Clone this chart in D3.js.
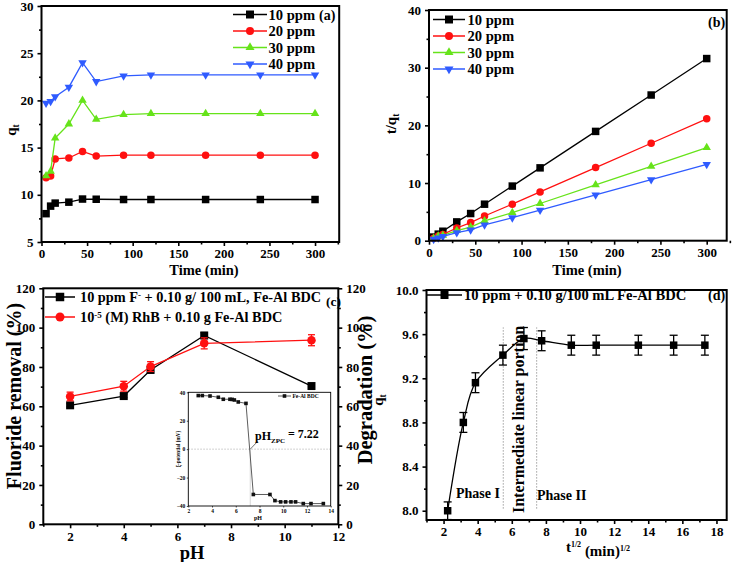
<!DOCTYPE html>
<html><head><meta charset="utf-8">
<script src="https://cdn.jsdelivr.net/npm/d3@7"></script>
<style>
body{margin:0;background:#fff}
svg{display:block}
text{font-family:"Liberation Serif","Times New Roman",serif;font-weight:bold;fill:#000}
</style>
</head><body>
<svg id="c" width="733" height="562"></svg>
<script>
// ---------------- DATA ----------------
// panel (a) & (b): contact time (min)
const timeMin = [5, 10, 15, 30, 45, 60, 90, 120, 180, 240, 300];
const concLabels = ["10 ppm", "20 ppm", "30 ppm", "40 ppm"];
const qt10 = [8.0, 8.8, 9.12, 9.22, 9.55, 9.53, 9.5, 9.5, 9.5, 9.5, 9.5];
const qt20 = [11.8, 12.0, 13.8, 13.9, 14.6, 14.1, 14.2, 14.2, 14.2, 14.2, 14.2];
const qt30 = [12.0, 12.5, 16.0, 17.5, 20.0, 18.0, 18.5, 18.6, 18.6, 18.6, 18.6];
const qt40 = [19.7, 19.9, 20.4, 21.4, 24.0, 22.0, 22.6, 22.7, 22.7, 22.7, 22.7];
const tq10 = [0.63, 1.14, 1.64, 3.26, 4.71, 6.33, 9.47, 12.63, 18.95, 25.26, 31.58];
const tq20 = [0.42, 0.83, 1.09, 2.2, 3.15, 4.28, 6.34, 8.45, 12.68, 16.9, 21.13];
const tq30 = [0.42, 0.80, 0.94, 1.75, 2.35, 3.45, 4.86, 6.45, 9.68, 12.9, 16.13];
const tq40 = [0.25, 0.50, 0.74, 1.40, 1.88, 2.73, 3.98, 5.29, 7.93, 10.57, 13.22];
// panel (c)
const pHValues = [2, 4, 5, 7, 11];
const fluorideRemoval = [60.5, 65.2, 78.5, 96.0, 70.3];
const fluorideErr = [0.8, 0.8, 1.5, 1.5, 0.8];
const rhbDegradation = [65.0, 70.2, 80.2, 92.0, 93.6];
const rhbErr = [2.2, 2.5, 2.5, 2.8, 2.8];
// inset (zeta potential)
const insetPH = [2.84, 3.18, 3.83, 4.53, 4.95, 5.51, 5.70, 5.88, 6.21, 6.86, 7.48, 8.88, 9.30, 9.78, 10.2, 10.65, 11.04, 11.69, 12.34, 13.38];
const zetaPotential = [37.7, 37.7, 37.4, 36.5, 35.1, 35.1, 35.0, 34.6, 33.2, 32.2, -31.9, -31.9, -36.2, -37.1, -37.1, -37.1, -37.1, -38.3, -38.3, -38.3];
const pHzpc = 7.22;
// panel (d)
const sqrtT = [2.24, 3.16, 3.87, 5.48, 6.71, 7.75, 9.49, 10.95, 13.42, 15.49, 17.32];
const qtD = [8.0, 8.8, 9.16, 9.41, 9.56, 9.54, 9.5, 9.5, 9.5, 9.5, 9.5];
const qtDErr = [0.08, 0.09, 0.09, 0.09, 0.1, 0.09, 0.09, 0.09, 0.09, 0.09, 0.09];
const phaseBounds = [5.5, 7.46];

// ---------------- STYLE ----------------
const BLACK = "#000", RED = "#ff1010", GREEN = "#66e31a", BLUE = "#2f5bff";
const LEG = 14.6;
const svg = d3.select("#c");

const sym = {
  square: d3.symbol().type(d3.symbolSquare),
  circle: d3.symbol().type(d3.symbolCircle),
  tri: d3.symbol().type(d3.symbolTriangle),
};
function marker(g, kind, cx, cy, size, color) {
  let s;
  if (kind === "square") s = g.append("path").attr("d", sym.square.size(size * size)());
  else if (kind === "circle") s = g.append("path").attr("d", sym.circle.size(Math.PI * size * size / 4)());
  else s = g.append("path").attr("d", sym.tri.size(size * size * 0.55)());
  let tr = `translate(${cx},${cy})`;
  if (kind === "down") tr += " rotate(180)";
  s.attr("transform", tr).attr("fill", color);
  return s;
}

function range(a, b, s) { const r = []; for (let v = a; v <= b + 1e-9; v += s) r.push(+v.toFixed(6)); return r; }

function axes(g, x, y, o) {
  const [x0, x1] = x.range(), [y0, y1] = y.range();
  const fs = o.fs || 13;
  const bx = g.append("g").attr("transform", `translate(0,${y0})`)
    .call(d3.axisBottom(x).tickValues(o.xMajor).tickSize(4).tickPadding(3).tickFormat(o.xFmt || d3.format("d")));
  const bxm = g.append("g").attr("transform", `translate(0,${y0})`)
    .call(d3.axisBottom(x).tickValues(o.xMinor).tickSize(2.5).tickFormat(""));
  const ly = g.append("g").attr("transform", `translate(${x0},0)`)
    .call(d3.axisLeft(y).tickValues(o.yMajor).tickSize(4).tickPadding(4).tickFormat(o.yFmt || d3.format("d")));
  const lym = g.append("g").attr("transform", `translate(${x0},0)`)
    .call(d3.axisLeft(y).tickValues(o.yMinor).tickSize(2.5).tickFormat(""));
  const all = [bx, bxm, ly, lym];
  if (o.right) {
    const ry = g.append("g").attr("transform", `translate(${x1},0)`)
      .call(d3.axisRight(y).tickValues(o.yMajor).tickSize(4).tickPadding(4).tickFormat(o.yFmt || d3.format("d")));
    const rym = g.append("g").attr("transform", `translate(${x1},0)`)
      .call(d3.axisRight(y).tickValues(o.yMinor).tickSize(2.5).tickFormat(""));
    all.push(ry, rym);
  }
  all.forEach(a => {
    a.select(".domain").remove();
    a.selectAll("line").attr("stroke", "#000").attr("stroke-width", 1.6);
    a.selectAll("text").attr("font-size", fs).attr("font-family", null);
  });
  g.append("rect").attr("x", x0).attr("y", y1).attr("width", x1 - x0).attr("height", y0 - y1)
    .attr("fill", "none").attr("stroke", "#000").attr("stroke-width", 2);
}

function series(g, x, y, xs, ys, color, kind, size, curve) {
  const line = d3.line().x((d, i) => x(xs[i])).y(d => y(d));
  if (curve) line.curve(curve);
  g.append("path").datum(ys).attr("d", line).attr("fill", "none").attr("stroke", color).attr("stroke-width", 1.3);
  ys.forEach((v, i) => marker(g, kind, x(xs[i]), y(v), size, color));
}

function errorBars(g, x, y, xs, ys, es, color, cap) {
  ys.forEach((v, i) => {
    const cx = x(xs[i]);
    g.append("line").attr("x1", cx).attr("x2", cx).attr("y1", y(v - es[i])).attr("y2", y(v + es[i]))
      .attr("stroke", color).attr("stroke-width", 1.3);
    [v - es[i], v + es[i]].forEach(e => g.append("line").attr("x1", cx - cap).attr("x2", cx + cap)
      .attr("y1", y(e)).attr("y2", y(e)).attr("stroke", color).attr("stroke-width", 1.3));
  });
}

function legendRow(g, x0, x1, yy, color, kind, size, label, tx, fs) {
  g.append("line").attr("x1", x0).attr("x2", x1).attr("y1", yy).attr("y2", yy).attr("stroke", color).attr("stroke-width", 1.5);
  marker(g, kind, (x0 + x1) / 2, yy, size, color);
  const t = g.append("text").attr("x", tx).attr("y", yy).attr("dy", "0.35em").attr("font-size", fs || LEG);
  if (typeof label === "string") t.text(label); else label(t);
}

function qtLabel(g, x, y, fs) {
  const t = g.append("text").attr("transform", `translate(${x},${y}) rotate(-90)`).attr("text-anchor", "middle").attr("font-size", fs);
  t.append("tspan").text("q");
  t.append("tspan").attr("font-size", fs * 0.62).attr("dy", "0.35em").text("t");
  return t;
}

const colors = [BLACK, RED, GREEN, BLUE];
const kinds = ["square", "circle", "tri", "down"];

// ---------------- PANEL (a) ----------------
{
  const g = svg.append("g");
  const x = d3.scaleLinear().domain([0, 326.5]).range([41.5, 339.2]);
  const y = d3.scaleLinear().domain([5, 30]).range([242, 6]);
  const data = [qt10, qt20, qt30, qt40];
  data.forEach((d, k) => series(g, x, y, timeMin, d, colors[k], kinds[k], 7.5));
  axes(g, x, y, { xMajor: range(0, 300, 50), xMinor: range(25, 325, 50), yMajor: range(5, 30, 5), yMinor: range(7.5, 27.5, 5) });
  const ly = [14.5, 31, 47.5, 64];
  concLabels.forEach((l, k) => legendRow(g, 233, 267, ly[k], colors[k], kinds[k], 8, l, 268.5));
  g.append("text").attr("x", 319).attr("y", 15).attr("dy", "0.35em").attr("font-size", 14).text("(a)");
  qtLabel(g, 16, 130, 15);
  g.append("text").attr("x", 204).attr("y", 275).attr("text-anchor", "middle").attr("font-size", 14.5).text("Time (min)");
}

// ---------------- PANEL (b) ----------------
{
  const g = svg.append("g");
  const x = d3.scaleLinear().domain([0, 321.6]).range([429, 726.7]);
  const y = d3.scaleLinear().domain([0, 40]).range([240.7, 10]);
  const data = [tq10, tq20, tq30, tq40];
  data.forEach((d, k) => series(g, x, y, timeMin, d, colors[k], kinds[k], 7.5));
  axes(g, x, y, { xMajor: range(0, 300, 50), xMinor: range(25, 325, 50), yMajor: range(0, 40, 10), yMinor: range(5, 35, 10) });
  const ly = [19.5, 36, 52.5, 69];
  concLabels.forEach((l, k) => legendRow(g, 433, 465, ly[k], colors[k], kinds[k], 8, l, 467.5));
  g.append("text").attr("x", 708).attr("y", 22).attr("dy", "0.35em").attr("font-size", 14).text("(b)");
  const t = g.append("text").attr("transform", "translate(396,124) rotate(-90)").attr("text-anchor", "middle").attr("font-size", 15);
  t.append("tspan").text("t/q");
  t.append("tspan").attr("font-size", 9.5).attr("dy", "0.35em").text("t");
  g.append("text").attr("x", 587).attr("y", 275).attr("text-anchor", "middle").attr("font-size", 14.5).text("Time (min)");
}

// ---------------- PANEL (c) ----------------
{
  const g = svg.append("g");
  const x = d3.scaleLinear().domain([1, 12]).range([43.3, 338.3]);
  const y = d3.scaleLinear().domain([0, 120]).range([524.3, 288.3]);
  errorBars(g, x, y, pHValues, fluorideRemoval, fluorideErr, BLACK, 3.5);
  series(g, x, y, pHValues, fluorideRemoval, BLACK, "square", 8);
  errorBars(g, x, y, pHValues, rhbDegradation, rhbErr, RED, 3.5);
  series(g, x, y, pHValues, rhbDegradation, RED, "circle", 8.5);
  axes(g, x, y, { xMajor: range(2, 12, 2), xMinor: range(1, 11, 2), yMajor: range(0, 120, 20), yMinor: range(10, 110, 20), right: true });
  legendRow(g, 45, 75, 297, BLACK, "square", 8.5, t => {
    t.append("tspan").text("10 ppm F");
    t.append("tspan").attr("font-size", 9).attr("dy", "-0.5em").text("-");
    t.append("tspan").attr("dy", "0.33em").text(" + 0.10 g/ 100 mL, Fe-Al BDC");
  }, 80, 14.3);
  legendRow(g, 45, 75, 317, RED, "circle", 9, t => {
    t.append("tspan").text("10");
    t.append("tspan").attr("font-size", 9).attr("dy", "-0.5em").text("-5");
    t.append("tspan").attr("dy", "0.33em").text(" (M) RhB + 0.10 g Fe-Al BDC");
  }, 80, 14.3);
  g.append("text").attr("x", 326).attr("y", 301).attr("dy", "0.35em").attr("font-size", 13.5).text("(c)");
  g.append("text").attr("transform", "translate(21,396) rotate(-90)").attr("text-anchor", "middle").attr("font-size", 20).text("Fluoride removal (%)");
  g.append("text").attr("transform", "translate(372,390) rotate(-90)").attr("text-anchor", "middle").attr("font-size", 20.5).text("Degradation (%)");
  g.append("text").attr("x", 192).attr("y", 559).attr("text-anchor", "middle").attr("font-size", 18.5).text("pH");

  // inset
  const ig = svg.append("g");
  const ix = d3.scaleLinear().domain([2, 14]).range([188.3, 330.7]);
  const iy = d3.scaleLinear().domain([-40, 40]).range([506, 392.3]);
  ig.append("rect").attr("x", 188.3).attr("y", 392.3).attr("width", 142.4).attr("height", 113.7).attr("fill", "#fff");
  ig.append("line").attr("x1", ix(2)).attr("x2", ix(14)).attr("y1", iy(0)).attr("y2", iy(0))
    .attr("stroke", "#aaa").attr("stroke-width", 0.7).attr("stroke-dasharray", "1.5,1.5");
  ig.append("line").attr("x1", ix(pHzpc)).attr("x2", ix(pHzpc)).attr("y1", iy(0)).attr("y2", iy(-40))
    .attr("stroke", "#ccc").attr("stroke-width", 0.8);
  const il = d3.line().x((d, i) => ix(insetPH[i])).y(d => iy(d));
  ig.append("path").datum(zetaPotential).attr("d", il).attr("fill", "none").attr("stroke", "#333").attr("stroke-width", 0.8);
  zetaPotential.forEach((v, i) => marker(ig, "square", ix(insetPH[i]), iy(v), 3.6, "#111"));
  const iax = ig.append("g").attr("transform", `translate(0,${iy.range()[0]})`)
    .call(d3.axisBottom(ix).tickValues(range(2, 14, 2)).tickSize(1.5).tickPadding(1.5).tickFormat(d3.format("d")));
  const iay = ig.append("g").attr("transform", `translate(${ix.range()[0]},0)`)
    .call(d3.axisLeft(iy).tickValues(range(-40, 40, 20)).tickSize(1.5).tickPadding(1.5).tickFormat(d3.format("d")));
  [iax, iay].forEach(a => {
    a.select(".domain").remove();
    a.selectAll("line").attr("stroke", "#000").attr("stroke-width", 0.7);
    a.selectAll("text").attr("font-size", 5.5).attr("font-family", null);
  });
  ig.append("rect").attr("x", 188.3).attr("y", 392.3).attr("width", 142.4).attr("height", 113.7)
    .attr("fill", "none").attr("stroke", "#000").attr("stroke-width", 0.9);
  ig.append("line").attr("x1", ix(pHzpc)).attr("y1", iy(0)).attr("x2", ix(7.85)).attr("y2", iy(5.5))
    .attr("stroke", "#333").attr("stroke-width", 0.7);
  const zt = ig.append("text").attr("x", ix(7.62)).attr("y", iy(6.4)).attr("font-size", 12);
  zt.append("tspan").text("pH");
  zt.append("tspan").attr("font-size", 7).attr("dy", "0.35em").text("ZPC");
  zt.append("tspan").attr("dy", "-0.35em").text(" = 7.22");
  ig.append("line").attr("x1", 278).attr("x2", 291).attr("y1", 396).attr("y2", 396).attr("stroke", "#333").attr("stroke-width", 0.8);
  marker(ig, "square", 284.5, 396, 3.6, "#111");
  ig.append("text").attr("x", 292.5).attr("y", 396).attr("dy", "0.35em").attr("font-size", 5.5).text("Fe-Al BDC");
  ig.append("text").attr("transform", "translate(179.5,449) rotate(-90)").attr("text-anchor", "middle").attr("font-size", 5.2).text("ξ-potential (mV)");
  ig.append("text").attr("x", 258).attr("y", 520).attr("text-anchor", "middle").attr("font-size", 6).text("pH");
}

// ---------------- PANEL (d) ----------------
{
  const g = svg.append("g");
  const x = d3.scaleLinear().domain([1, 18.6]).range([426.5, 726.7]);
  const y = d3.scaleLinear().domain([7.916, 10.0]).range([520, 290]);
  phaseBounds.forEach(b => g.append("line").attr("x1", x(b)).attr("x2", x(b)).attr("y1", y(8.02)).attr("y2", y(9.66))
    .attr("stroke", "#888").attr("stroke-width", 1).attr("stroke-dasharray", "1.2,1.8"));
  errorBars(g, x, y, sqrtT, qtD, qtDErr, BLACK, 4);
  series(g, x, y, sqrtT, qtD, BLACK, "square", 7.5, d3.curveCatmullRom.alpha(0.5));
  const f1 = d3.format(".1f");
  axes(g, x, y, { xMajor: range(2, 18, 2), xMinor: range(1, 17, 2), yMajor: range(8.0, 10.0, 0.4), yMinor: range(8.2, 9.8, 0.4), yFmt: f1 });
  legendRow(g, 427, 462, 295, BLACK, "square", 8, "10 ppm + 0.10 g/100 mL Fe-Al BDC", 464);
  g.append("text").attr("x", 708).attr("y", 295).attr("dy", "0.35em").attr("font-size", 14).text("(d)");
  g.append("text").attr("x", 456).attr("y", 498).attr("font-size", 14).text("Phase I");
  g.append("text").attr("x", 537).attr("y", 500).attr("font-size", 14).text("Phase II");
  g.append("text").attr("transform", "translate(524,513) rotate(-90)").attr("font-size", 16).text("Intermediate linear portion");
  qtLabel(g, 383, 400, 15);
  const xt = g.append("text").attr("x", 598).attr("y", 552).attr("text-anchor", "middle").attr("font-size", 15);
  xt.append("tspan").text("t");
  xt.append("tspan").attr("font-size", 8).attr("dy", "-0.6em").text("1/2");
  xt.append("tspan").attr("dy", "0.6em").text(" (min)");
  xt.append("tspan").attr("font-size", 8).attr("dy", "-0.6em").text("1/2");
}
</script>
</body></html>
